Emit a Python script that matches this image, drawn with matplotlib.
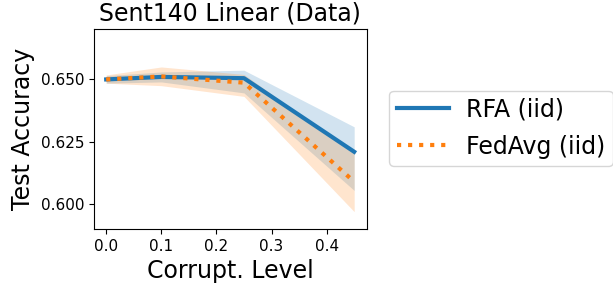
import numpy as np
import matplotlib
matplotlib.use("Agg")
import matplotlib.pyplot as plt

''' Data '''
corrupt = [0.0, 0.1, 0.25, 0.45]

rfa_mean = [0.6500, 0.6510, 0.6505, 0.6210]
rfa_low = [0.6485, 0.6490, 0.6446, 0.6055]
rfa_high = [0.6515, 0.6530, 0.6537, 0.6310]

fedavg_mean = [0.6500, 0.6512, 0.6487, 0.6090]
fedavg_low = [0.6485, 0.6475, 0.6432, 0.5970]
fedavg_high = [0.6518, 0.6550, 0.6520, 0.6205]

y_ticks = [0.600, 0.625, 0.650]
x_ticks = [0.0, 0.1, 0.2, 0.3, 0.4]

''' Plot '''
fig = plt.figure(figsize=(6.13, 2.90), dpi=100)
ax = fig.add_axes([0.153, 0.21, 0.445, 0.689])

ax.plot(corrupt, rfa_mean, color="#1f77b4", lw=3, label="RFA (iid)")
ax.fill_between(corrupt, rfa_low, rfa_high, color="#1f77b4", alpha=0.2, lw=0)
ax.plot(corrupt, fedavg_mean, color="#ff7f0e", lw=3, ls=":", label="FedAvg (iid)")
ax.fill_between(corrupt, fedavg_low, fedavg_high, color="#ff7f0e", alpha=0.2, lw=0)

ax.set_ylim(0.5900, 0.6701)
ax.set_yticks(y_ticks)
ax.set_yticklabels(["%.3f" % v for v in y_ticks])
ax.set_xticks(x_ticks)
ax.tick_params(labelsize=11)

ax.set_title("Sent140 Linear (Data)", fontsize=17)
ax.set_xlabel("Corrupt. Level", fontsize=17)
ax.set_ylabel("Test Accuracy", fontsize=17)

ax.legend(fontsize=17, loc="upper left", bbox_to_anchor=(1.084, 0.693),
          borderaxespad=0, borderpad=0.3, handlelength=2.2,
          handletextpad=0.75, labelspacing=0.55)

fig.savefig("out.png", dpi=100)
